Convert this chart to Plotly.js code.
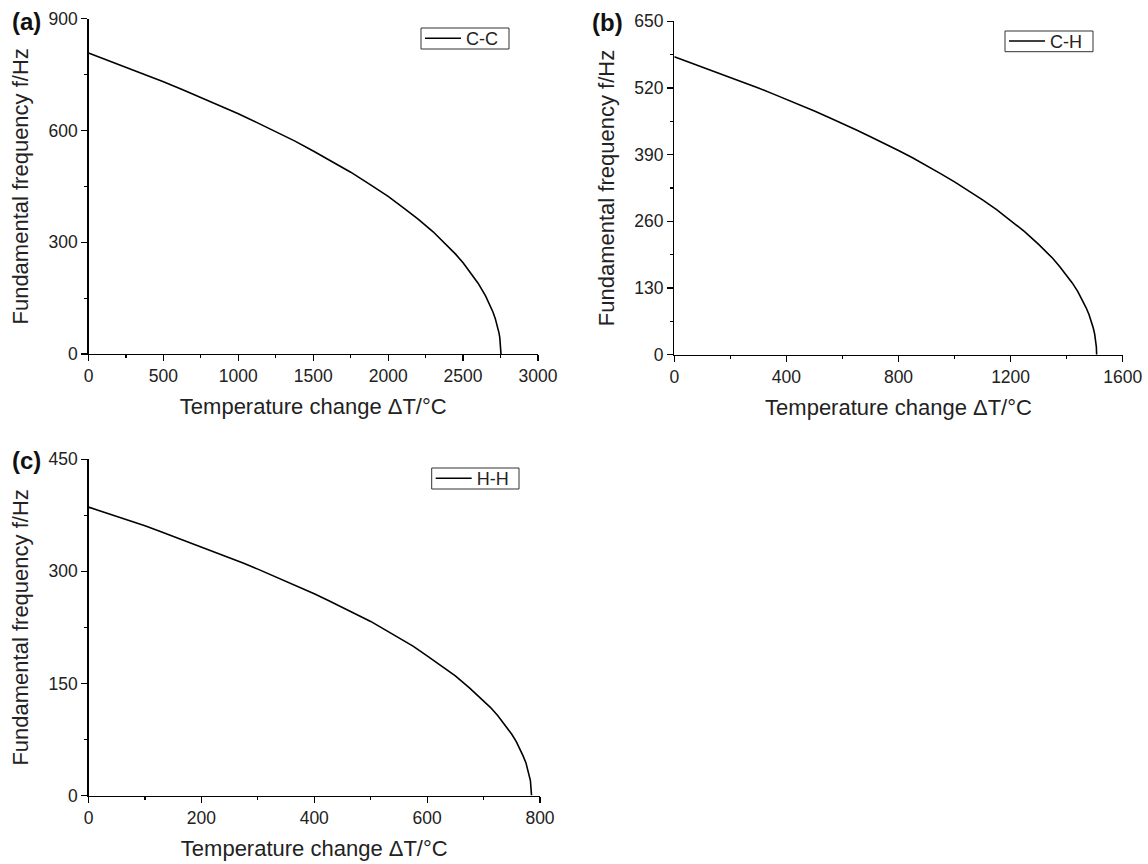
<!DOCTYPE html>
<html>
<head>
<meta charset="utf-8">
<script src="https://cdn.plot.ly/plotly-3.0.1.min.js"></script>
<style>html,body{margin:0;padding:0;background:#fff;}#chart{width:1148px;height:864px;}</style>
</head>
<body>
<div id="chart"></div>
<script>
// ---- Data ----
// (a) C-C
const ccTemp = [0, 125, 250, 375, 500, 625, 750, 875, 1000, 1125, 1250, 1375, 1500, 1625, 1750, 1875, 2000, 2100, 2200, 2300, 2400, 2450, 2500, 2550, 2600, 2650, 2675, 2700, 2715, 2730, 2740, 2745, 2750, 2752, 2753];
const ccFreq = [808, 789, 770, 751, 731, 710, 689, 667, 645, 621, 597, 572, 545, 517, 488, 456, 423, 393, 362, 328, 289, 268, 245, 219, 190, 156, 136, 112, 95, 74, 56, 44, 27, 15, 0];
// (b) C-H
const chTemp = [0, 50, 100, 150, 200, 250, 300, 350, 400, 450, 500, 550, 600, 650, 700, 750, 800, 850, 900, 950, 1000, 1050, 1100, 1150, 1200, 1250, 1300, 1325, 1350, 1375, 1400, 1420, 1440, 1455, 1470, 1480, 1490, 1495, 1500, 1504, 1506, 1507];
const chFreq = [581, 571, 561, 551, 541, 531, 520, 509, 498, 487, 475, 463, 451, 438, 425, 412, 398, 384, 369, 353, 337, 320, 302, 283, 262, 240, 215, 202, 188, 172, 155, 140, 123, 108, 91, 78, 62, 52, 40, 26, 15, 0];
// (c) H-H
const hhTemp = [0, 25, 50, 75, 100, 125, 150, 175, 200, 225, 250, 275, 300, 325, 350, 375, 400, 425, 450, 475, 500, 525, 550, 575, 600, 625, 650, 675, 700, 712, 725, 738, 750, 758, 765, 770, 775, 780, 783, 785];
const hhFreq = [386, 380, 373, 367, 361, 354, 347, 340, 333, 326, 319, 311, 303, 295, 287, 279, 270, 261, 252, 243, 233, 222, 211, 200, 187, 174, 160, 144, 127, 118, 107, 94, 82, 72, 62, 53, 44, 31, 20, 0];

const seriesNames = ['C-C', 'C-H', 'H-H'];
const panelLabels = ['(a)', '(b)', '(c)'];
const xTitle = 'Temperature change ΔT/°C';
const yTitle = 'Fundamental frequency f/Hz';
const xRanges = [[0, 3000], [0, 1600], [0, 800]];
const yRanges = [[0, 900], [0, 650], [0, 450]];
const xTickStep = [500, 400, 200];
const yTickStep = [300, 130, 150];

// ---- Layout helpers ----
const W = 1148, H = 864;
const FONT = 'Liberation Sans, Arial, Helvetica, sans-serif';
const px = v => v / W;
const py = v => 1 - v / H;

function xAxis(i, dom, anchor) {
  return {
    domain: dom, anchor: anchor, range: xRanges[i], autorange: false,
    showline: true, linecolor: '#000', linewidth: 1.3, mirror: false,
    showgrid: false, zeroline: false,
    ticks: 'outside', ticklen: 6, tickwidth: 1.2, tickcolor: '#000',
    dtick: xTickStep[i], tick0: 0,
    minor: {ticks: 'outside', ticklen: 3, tickwidth: 1.2, tickcolor: '#000', dtick: xTickStep[i] / 2, tick0: 0, showgrid: false},
    tickfont: {family: FONT, size: 17.5, color: '#222'},
    title: {text: xTitle, font: {family: FONT, size: 22, color: '#222'}, standoff: 13},
    automargin: false, fixedrange: true
  };
}
function yAxis(i, dom, anchor) {
  return {
    domain: dom, anchor: anchor, range: yRanges[i], autorange: false,
    showline: true, linecolor: '#000', linewidth: 1.3, mirror: false,
    showgrid: false, zeroline: false,
    ticks: 'outside', ticklen: 6, tickwidth: 1.2, tickcolor: '#000',
    dtick: yTickStep[i], tick0: 0,
    minor: {ticks: 'outside', ticklen: 3, tickwidth: 1.2, tickcolor: '#000', dtick: yTickStep[i] / 2, tick0: 0, showgrid: false},
    tickfont: {family: FONT, size: 17.5, color: '#222'},
    title: {text: yTitle, font: {family: FONT, size: 22, color: '#222'}, standoff: 13},
    automargin: false, fixedrange: true
  };
}
// legend text/line drawn by Plotly, frame drawn as a rectangle of the reference's size
function legendBox(x, yMid) {
  return {
    x: x, y: yMid, xanchor: 'left', yanchor: 'middle',
    bgcolor: 'rgba(255,255,255,0)', borderwidth: 0,
    font: {family: FONT, size: 18, color: '#222'},
    itemwidth: 36, tracegroupgap: 0
  };
}
function frame(x0, y0, x1, y1) {
  return {type: 'rect', xref: 'paper', yref: 'paper', x0: px(x0), x1: px(x1), y0: py(y1), y1: py(y0),
          line: {color: '#333', width: 1}, fillcolor: 'rgba(0,0,0,0)', layer: 'above'};
}
function panelLabel(t, x, y) {
  return {text: '<b>' + t + '</b>', x: px(x), y: py(y), xref: 'paper', yref: 'paper', xanchor: 'center', yanchor: 'middle',
          showarrow: false, font: {family: FONT, size: 24, color: '#111'}};
}

const traces = [
  {x: ccTemp, y: ccFreq, name: seriesNames[0], xaxis: 'x', yaxis: 'y', legend: 'legend'},
  {x: chTemp, y: chFreq, name: seriesNames[1], xaxis: 'x2', yaxis: 'y2', legend: 'legend2'},
  {x: hhTemp, y: hhFreq, name: seriesNames[2], xaxis: 'x3', yaxis: 'y3', legend: 'legend3'}
].map(t => Object.assign(t, {type: 'scatter', mode: 'lines', line: {color: '#000', width: 1.6}, showlegend: true}));

const layout = {
  width: W, height: H,
  margin: {l: 0, r: 0, t: 0, b: 0},
  paper_bgcolor: '#fff', plot_bgcolor: 'rgba(0,0,0,0)',
  showlegend: true,
  xaxis:  xAxis(0, [px(88.5), px(538)], 'y'),
  yaxis:  yAxis(0, [py(354), py(18.7)], 'x'),
  xaxis2: xAxis(1, [px(674.3), px(1122.7)], 'y2'),
  yaxis2: yAxis(1, [py(354.7), py(21.3)], 'x2'),
  xaxis3: xAxis(2, [px(88.5), px(540)], 'y3'),
  yaxis3: yAxis(2, [py(795.5), py(459.3)], 'x3'),
  legend:  legendBox(px(420), py(38.5)),
  legend2: legendBox(px(1004), py(41.3)),
  legend3: legendBox(px(430.7), py(478.5)),
  shapes: [
    frame(421, 28, 509, 49),
    frame(1005, 31, 1093, 51.7),
    frame(431.7, 468, 519, 489)
  ],
  annotations: [
    panelLabel(panelLabels[0], 26, 21.5),
    panelLabel(panelLabels[1], 607.5, 22.5),
    panelLabel(panelLabels[2], 26, 460.5)
  ]
};

Plotly.newPlot('chart', traces, layout, {displayModeBar: false, staticPlot: true});
</script>
</body>
</html>
